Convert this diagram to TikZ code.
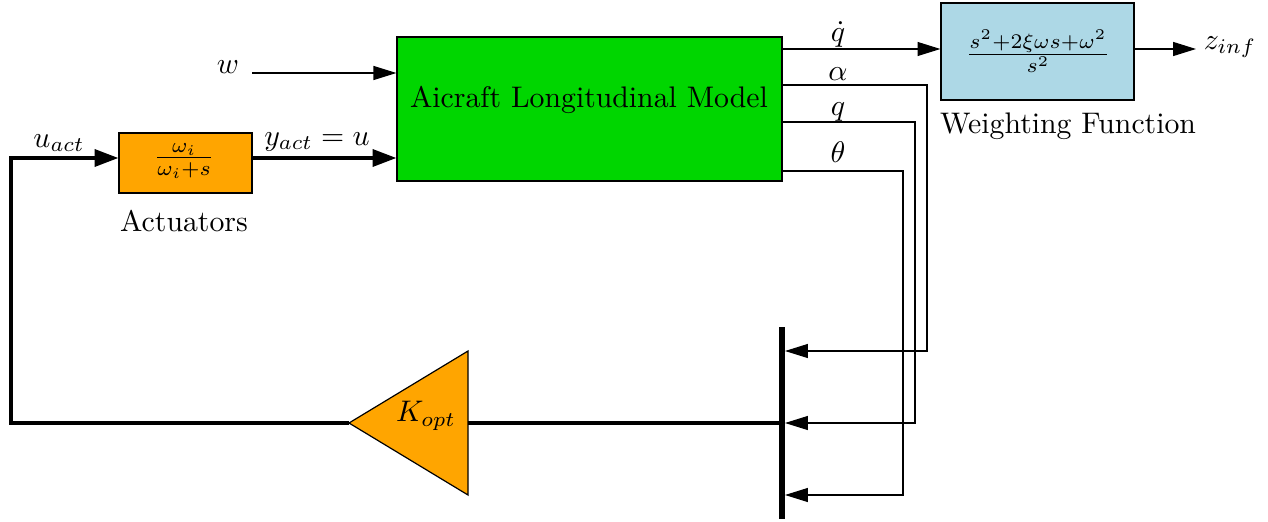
\documentclass[tikz,border=0pt]{standalone}
\usetikzlibrary{arrows.meta,calc}
\definecolor{aircraftgreen}{RGB}{0,214,0}
\definecolor{blockorange}{RGB}{255,165,0}
\definecolor{wfblue}{RGB}{173,216,230}
\tikzset{
  blockbox/.style={draw, line width=0.4pt, inner sep=0pt},
  thinarrow/.style={line width=0.4pt, -{Triangle[length=7.7pt,width=4.7pt]}},
  thickarrow/.style={line width=1.2pt, -{Triangle[length=8pt,width=5.7pt]}},
  thicksig/.style={line width=1.2pt},
  lbl/.style={inner sep=0pt}}
\begin{document}
\begin{tikzpicture}[x=0.336pt,y=-0.336pt]
\useasboundingbox (0,0) rectangle (1268,521);
% blocks
\node[blockbox, fill=aircraftgreen, minimum width=129.36pt, minimum height=48.38pt] (acm) at (589.5,109) {};
\node[lbl] (acmtext) at (589,100) {Aicraft Longitudinal Model};
\node[blockbox, fill=blockorange, minimum width=44.69pt, minimum height=20.16pt] (act) at (185.5,163) {};
\node[lbl] (acttext) at (184,161) {$\frac{\omega_i}{\omega_i+s}$};
\node[blockbox, fill=wfblue, minimum width=64.85pt, minimum height=32.59pt] (wf) at (1037.5,51.5) {};
\node[lbl] (wftext) at (1038,51) {$\frac{s^2+2\xi\omega s+\omega^2}{s^2}$};
% gain triangle
\coordinate (kapex) at (349,423);
\coordinate (kbase) at (468,423);
\draw[line width=0.4pt, fill=blockorange] (kapex) -- (468,351) -- (468,495) -- cycle;
\node[lbl] (k) at (426,416) {$K_{opt}$};
% mux bar
\coordinate (bartop) at (782,327);
\coordinate (barbot) at (782,519);
\draw[line width=2pt] (bartop) -- (barbot);
\coordinate (muxa) at (785,351);
\coordinate (muxq) at (785,423);
\coordinate (muxt) at (785,495);
\coordinate (muxout) at (782,423);
% labels
\node[lbl] (wlbl) at (228,67) {$w$};
\coordinate (wstart) at (252,73);
\node[lbl] (uactlbl) at (59,143) {$u_{act}$};
\node[lbl] (yactlbl) at (317,142) {$y_{act}=u$};
\node[lbl] (actlbl) at (184,221) {Actuators};
\node[lbl] (wflbl) at (1068,126) {Weighting Function};
\node[lbl] (zlbl) at (1230,47) {$z_{inf}$};
\coordinate (zend) at (1196,49);
\node[lbl] (qdlbl) at (838,34) {$\dot q$};
\node[lbl] (alpbl) at (838,74) {$\alpha$};
\node[lbl] (qlbl) at (838,112) {$q$};
\node[lbl] (thlbl) at (838,152) {$\theta$};
% outputs
\coordinate (oqd) at (782,49);
\coordinate (oal) at (782,85);
\coordinate (oq) at (782,122);
\coordinate (oth) at (782,171);
\draw[thinarrow] (oqd) -- (oqd -| wf.west);
\draw[thinarrow] (wf.east |- zend) -- (zend);
\draw[thinarrow] (oal) -- (927,85) -- (927,351) -- (muxa);
\draw[thinarrow] (oq) -- (915,122) -- (915,423) -- (muxq);
\draw[thinarrow] (oth) -- (903,171) -- (903,495) -- (muxt);
% inputs
\draw[thinarrow] (wstart) -- (wstart -| acm.west);
\coordinate (uin) at (119,158);
\draw[thickarrow] (act.east |- uin) -- (uin -| acm.west);
\draw[thicksig] (muxout) -- (kbase);
\coordinate (loopcorner) at (11,423);
\draw[thickarrow] (kapex) -- (loopcorner) -- (loopcorner |- uin) -- (act.west |- uin);
\end{tikzpicture}
\end{document}
